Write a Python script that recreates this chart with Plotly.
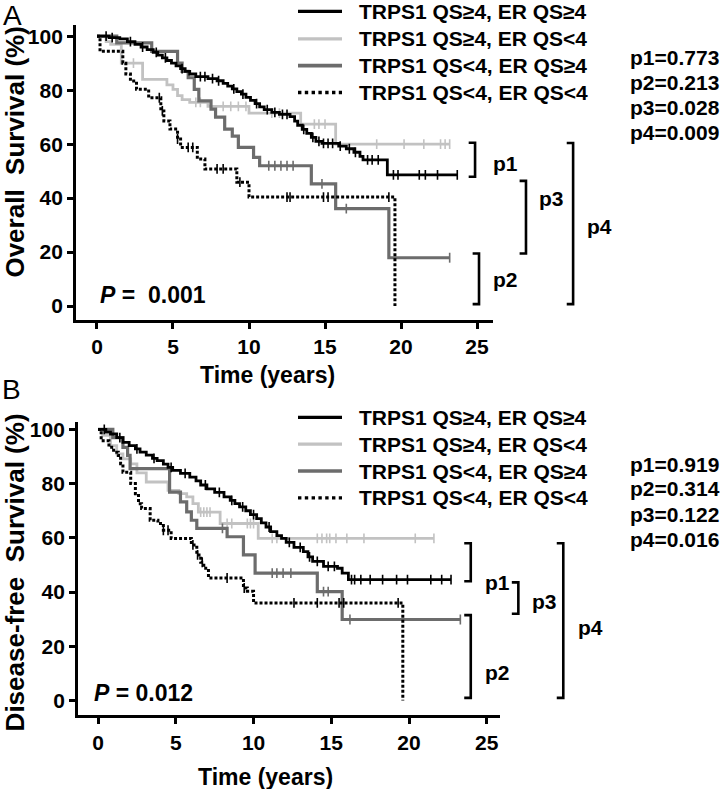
import plotly.graph_objects as go
import bisect

# ---------------- data ----------------
series_names = ["TRPS1 QS≥4, ER QS≥4", "TRPS1 QS≥4, ER QS<4",
                "TRPS1 QS<4, ER QS≥4", "TRPS1 QS<4, ER QS<4"]

# Panel A: overall survival (step times in years, survival %)
a1_t = [0, 0.8, 1.5, 2.0, 2.5, 2.9, 3.3, 3.7, 4.0, 4.3, 4.6, 4.9, 5.2, 5.5, 5.8, 6.1, 6.5, 7.3, 7.9, 8.3,
        8.6, 8.9, 9.2, 9.5, 9.8, 10.1, 10.4, 10.7, 11.0, 11.5, 12.0, 12.7, 13.0, 13.2, 13.5, 13.8, 14.1,
        14.4, 14.8, 15.9, 16.4, 16.9, 17.3, 17.5, 19.1]
a1_s = [100, 99.5, 99, 98, 97, 96, 95, 94, 93, 92, 91, 90, 89, 88, 87, 86, 85, 84.3, 83.5, 82.5,
        81.5, 80.5, 79.5, 78.5, 77.3, 76.2, 75, 73.8, 72.8, 71.8, 71, 70.2, 68.5, 67, 65.5, 64, 62.5,
        61, 60.3, 59.3, 58.3, 57, 55.5, 54.2, 48.6]
a1_end = 23.7
a1_cens = [0.6, 1.0, 2.2, 3.0, 3.9, 4.5, 5.6, 6.8, 7.1, 7.6, 8.0, 9.0, 9.6, 10.5, 11.2, 11.7, 12.2, 12.5,
           13.6, 14.2, 14.6, 14.9, 15.2, 15.5, 16.0, 16.6, 17.0, 17.8, 18.1, 18.5, 19.5, 19.8, 21.2,
           21.6, 22.4, 23.7]

a2_t = [0, 0.6, 0.9, 1.6, 3.0, 4.6, 5.0, 5.3, 5.6, 6.1, 7.3, 10.0, 13.4, 15.7]
a2_s = [100, 98, 97, 90, 84, 82, 80.3, 78, 76.5, 75.5, 74, 71.5, 67.4, 60]
a2_end = 23.2
a2_cens = [2.4, 6.5, 6.8, 8.3, 8.8, 9.3, 9.8, 11.5, 12.0, 14.3, 14.6, 15.0, 18.4, 20.2, 21.5, 22.6,
           22.9, 23.2]

a3_t = [0, 1.3, 3.6, 5.3, 5.6, 6.0, 6.4, 6.7, 7.5, 7.8, 8.4, 8.9, 9.3, 10.3, 10.7, 14.1, 15.7, 19.2]
a3_s = [100, 97.5, 94.4, 90, 87, 84.6, 80.3, 76, 73, 70, 65.6, 63, 58.8, 55.1, 52, 45.3, 36.1, 17.9]
a3_end = 23.2
a3_cens = [11.3, 11.7, 12.1, 12.5, 12.9, 14.8, 16.4, 23.2]

a4_t = [0, 0.2, 1.7, 1.9, 2.2, 2.6, 3.4, 4.2, 4.4, 4.8, 5.3, 5.5, 6.6, 7.1, 9.2, 10.0, 19.6]
a4_s = [100, 94.4, 90, 86, 83.4, 80.3, 77.2, 72.3, 68.6, 65.6, 61.9, 58.8, 54.5, 50.8, 45.9, 40.4, 0]
a4_end = 19.6
a4_cens = [4.1, 4.3, 5.3, 6.0, 6.3, 7.9, 8.3, 9.4, 12.5, 12.7, 14.9, 15.2, 19.2]

# Panel B: disease-free survival
b1_t = [0, 0.5, 0.8, 1.2, 1.6, 2.0, 2.4, 2.7, 3.1, 3.5, 3.8, 4.2, 4.5, 4.8, 5.3, 5.9, 6.3, 6.6, 7.0, 7.5,
        8.1, 8.5, 8.8, 9.1, 9.5, 9.8, 10.2, 10.5, 10.8, 11.1, 11.5, 11.8, 12.1, 12.6, 13.2, 13.5, 13.8,
        14.5, 15.4, 15.7, 16.1]
b1_s = [100, 99, 98.3, 97, 95.2, 94, 92.8, 91.6, 90.5, 89.3, 88.5, 87.2, 86, 84.9, 83.8, 82.4, 81, 79.5,
        78.1, 76.8, 75.1, 73.8, 72.6, 71.4, 70, 68.6, 67.1, 65.5, 64, 62.3, 60.8, 59.8, 58.3, 56.5, 54.9,
        53, 51.3, 49.5, 48.8, 47, 44.6]
b1_end = 22.7
b1_cens = [0.4, 1.4, 2.5, 3.6, 4.7, 5.6, 6.9, 7.8, 8.6, 9.3, 10.0, 11.0, 12.3, 13.0, 13.6, 14.1, 14.8,
           15.2, 16.3, 16.5, 16.9, 17.5, 18.3, 19.2, 19.9, 21.4, 22.1, 22.7]

b2_t = [0, 0.3, 0.8, 1.2, 1.6, 2.1, 2.5, 3.1, 4.5, 5.2, 5.7, 6.1, 6.45, 7.85, 10.3]
b2_s = [100, 97.8, 94, 91, 89.1, 87.3, 84, 80.6, 77.5, 76.3, 75.1, 72.6, 69.5, 65.3, 59.8]
b2_end = 21.6
b2_cens = [6.6, 6.8, 7.0, 7.2, 8.3, 8.6, 9.6, 9.8, 10.0, 11.2, 11.5, 14.1, 14.4, 14.7, 14.9, 15.3, 16.0,
           17.1, 20.4, 21.6]

b3_t = [0, 0.95, 1.6, 1.9, 2.06, 4.6, 5.3, 5.7, 6.0, 6.35, 8.3, 9.35, 10.1, 14.1, 15.7]
b3_s = [100, 97, 93.4, 90.4, 85.5, 76.9, 73.3, 69.6, 66.5, 63.5, 60.4, 53.7, 47, 40.2, 29.9]
b3_end = 23.3
b3_cens = [8.0, 11.2, 11.5, 11.9, 12.4, 14.5, 14.8, 16.2, 23.3]

b4_t = [0, 0.2, 0.7, 1.0, 1.3, 1.45, 1.6, 2.1, 2.4, 2.6, 2.8, 3.35, 3.85, 4.2, 4.7, 6.0, 6.35, 6.6, 6.8,
        7.1, 9.35, 9.6, 10.0, 19.6]
b4_s = [100, 95.8, 93.4, 91.6, 90.4, 87.3, 84.2, 80, 76.3, 72.6, 70.8, 66.5, 65.3, 62.8, 59.8, 57.4,
        53.7, 51, 48.8, 45.2, 41.5, 40.3, 36, 0]
b4_end = 19.6
b4_cens = [4.2, 4.5, 6.1, 6.4, 6.7, 8.3, 9.4, 12.6, 14.1, 15.5, 15.8, 19.3]

x_ticks = [0, 5, 10, 15, 20, 25]
y_ticks = [0, 20, 40, 60, 80, 100]

p_text_A = ["p1=0.773", "p2=0.213", "p3=0.028", "p4=0.009"]
p_text_B = ["p1=0.919", "p2=0.314", "p3=0.122", "p4=0.016"]
overall_p_A = "0.001"
overall_p_B = "0.012"

# ---------------- styling ----------------
FONT = "Liberation Sans, Arial, Helvetica, sans-serif"
colors = ["#000000", "#c2c2c2", "#6c6c6c", "#000000"]
widths = [2.8, 2.8, 3.2, 3.0]
dashes = ["solid", "solid", "solid", "3px,2px"]

W, H = 720, 789
AX = {
    "A": dict(x="x", y="y", xd=(76 / W, 493 / W), xr=(-1.38, 26.05),
              yd=(1 - 317 / H, 1 - 20 / H), yr=(-5.16, 104.2)),
    "B": dict(x="x2", y="y2", xd=(78 / W, 500 / W), xr=(-1.29, 25.85),
              yd=(1 - 715 / H, 1 - 420 / H), yr=(-5.5, 102.6)),
}


def to_paper(panel, t, v):
    a = AX[panel]
    px = a["xd"][0] + (t - a["xr"][0]) / (a["xr"][1] - a["xr"][0]) * (a["xd"][1] - a["xd"][0])
    py = a["yd"][0] + (v - a["yr"][0]) / (a["yr"][1] - a["yr"][0]) * (a["yd"][1] - a["yd"][0])
    return px, py


def step_value(ts, ss, c):
    i = bisect.bisect_right(ts, c) - 1
    return ss[max(i, 0)]


fig = go.Figure()

panels = {
    "A": [(a1_t, a1_s, a1_end, a1_cens), (a2_t, a2_s, a2_end, a2_cens),
          (a3_t, a3_s, a3_end, a3_cens), (a4_t, a4_s, a4_end, a4_cens)],
    "B": [(b1_t, b1_s, b1_end, b1_cens), (b2_t, b2_s, b2_end, b2_cens),
          (b3_t, b3_s, b3_end, b3_cens), (b4_t, b4_s, b4_end, b4_cens)],
}

draw_order = [1, 2, 3, 0]  # black on top
for pname, groups in panels.items():
    a = AX[pname]
    for gi in draw_order:
        ts, ss, end, cens = groups[gi]
        xs = list(ts)
        ys = list(ss)
        if end > ts[-1]:
            xs.append(end)
            ys.append(ss[-1])
        fig.add_trace(go.Scatter(
            x=xs, y=ys, mode="lines", line_shape="hv",
            line=dict(color=colors[gi], width=widths[gi], dash=dashes[gi]),
            xaxis=a["x"], yaxis=a["y"], showlegend=False, hoverinfo="skip",
            name=series_names[gi]))
        cy = [step_value(ts, ss, c) for c in cens]
        fig.add_trace(go.Scatter(
            x=cens, y=cy, mode="markers",
            marker=dict(symbol="line-ns", size=7, line=dict(color=colors[gi], width=1.6)),
            xaxis=a["x"], yaxis=a["y"], showlegend=False, hoverinfo="skip"))

axis_common = dict(showline=True, linecolor="black", linewidth=2.8, ticks="outside",
                   ticklen=6, tickwidth=2.8, tickcolor="black", showgrid=False, zeroline=False,
                   tickfont=dict(family=FONT, size=21, color="black", weight="bold"))

for pname, a in AX.items():
    xkey = "xaxis" if a["x"] == "x" else "xaxis2"
    ykey = "yaxis" if a["y"] == "y" else "yaxis2"
    fig.update_layout(**{
        xkey: dict(domain=list(a["xd"]), range=list(a["xr"]), tickvals=x_ticks,
                   anchor=a["y"], **axis_common),
        ykey: dict(domain=list(a["yd"]), range=list(a["yr"]), tickvals=y_ticks,
                   anchor=a["x"], **axis_common),
    })

shapes = []
annotations = []


def txt(x, y, text, size, xanchor="left", yanchor="middle", xref="paper", yref="paper",
        angle=0, bold=True):
    annotations.append(dict(x=x, y=y, xref=xref, yref=yref, text=text, showarrow=False,
                            xanchor=xanchor, yanchor=yanchor, textangle=angle,
                            font=dict(family=FONT, size=size, color="black",
                                      weight="bold" if bold else "normal")))


# manual legends
legend_rows = {"A": [6.5, 34, 61, 88], "B": [415, 442, 469, 496]}
for pname, rows in legend_rows.items():
    for gi, ry in enumerate(rows):
        yy = 1 - ry / H
        shapes.append(dict(type="line", xref="paper", yref="paper", x0=298 / W, x1=342 / W,
                           y0=yy, y1=yy,
                           line=dict(color=colors[gi], width=widths[gi] + 0.4,
                                     dash="dot" if gi == 3 else "solid")))
        txt(357 / W, yy, series_names[gi], 21)

# p-value lists
for rows, texts in [([53, 78, 103, 128], p_text_A), ([462, 487, 513, 538], p_text_B)]:
    for ry, t in zip(rows, texts):
        txt(628 / W, 1 - ry / H, t, 21)

# brackets (data units of each panel)
brackets = {
    "A": [(24.87, 60.5, 47.9, "p1", 25.9, 52.7), (25.13, 19.5, 0.7, "p2", 25.9, 10.0),
          (28.22, 46.4, 19.5, "p3", 28.95, 39.8), (31.32, 60.4, 0.7, "p4", 32.1, 29.5)],
    "B": [(23.97, 58.0, 44.0, "p1", 24.74, 43.7), (23.97, 31.5, 1.0, "p2", 24.74, 10.4),
          (27.03, 43.6, 32.0, "p3", 27.78, 36.6), (29.92, 58.0, 1.0, "p4", 30.74, 27.1)],
}
for pname, blist in brackets.items():
    for bx, y0, y1, lab, lx, ly in blist:
        tick = 0.42
        p0 = to_paper(pname, bx - tick, y0)
        p1 = to_paper(pname, bx, y0)
        p2 = to_paper(pname, bx, y1)
        p3 = to_paper(pname, bx - tick, y1)
        path = "M {:.5f},{:.5f} L {:.5f},{:.5f} L {:.5f},{:.5f} L {:.5f},{:.5f}".format(
            p0[0], p0[1], p1[0], p1[1], p2[0], p2[1], p3[0], p3[1])
        shapes.append(dict(type="path", xref="paper", yref="paper", path=path,
                           line=dict(color="black", width=2.6)))
        lp = to_paper(pname, lx, ly)
        txt(lp[0], lp[1], lab, 21)

# overall P values
txt(0.07, 4.0, "<i>P</i> =  " + overall_p_A, 23, xref="x", yref="y")
txt(-0.39, 2.9, "<i>P</i> = " + overall_p_B, 23, xref="x2", yref="y2")

# axis titles
txt(267 / W, 1 - 372 / H, "Time (years)", 23, xanchor="center")
txt(265 / W, 1 - 777 / H, "Time (years)", 23, xanchor="center")
txt(15 / W, 1 - 148.5 / H, "Overall\u00a0 Survival (%)", 26, xanchor="center", angle=-90)
txt(15 / W, 1 - 571 / H, "Disease-free\u00a0 Survival (%)", 26, xanchor="center", angle=-90)

# panel letters
txt(12 / W, 1 - 11 / H, "A", 28, xanchor="center", bold=False)
txt(11 / W, 1 - 387 / H, "B", 28, xanchor="center", bold=False)

fig.update_layout(width=W, height=H, margin=dict(l=0, r=0, t=0, b=0),
                  paper_bgcolor="white", plot_bgcolor="white",
                  shapes=shapes, annotations=annotations, showlegend=False)

fig.write_html("out.html", config={"displayModeBar": False},
               post_script="document.body.style.margin='0px';document.body.style.overflow='hidden';")
